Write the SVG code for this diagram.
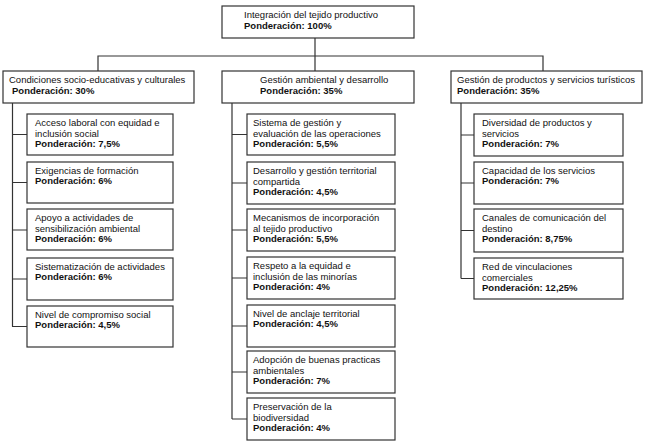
<svg xmlns="http://www.w3.org/2000/svg" width="650" height="446" viewBox="0 0 650 446">
<style>
rect.b{fill:#fff;stroke:#333;stroke-width:1.2}
text{font-family:"Liberation Sans",Arial,sans-serif;font-size:9.5px;fill:#111}
.p{font-weight:bold}
#connectors path{fill:none;stroke:#333;stroke-width:1.2}
</style>
<rect width="650" height="446" fill="#fff"/>
<g id="connectors">
<path d="M315 38V71M98 71V56H543V71"/>
<path d="M12.5 103V326.5M12 134.5H27M12 182.5H27M12 230H27M12 279H27M12 326.5H27"/>
<path d="M232 103V419M232 134.5H247M232 183H247M232 230H247M232 278H247M232 326H247M232 372H247M232 419H247"/>
<path d="M461 103V278.5M461 135H474M461 183H474M461 230.5H474M461 278.5H474"/>
</g>
<g id="n0"><rect class="b" x="222" y="6" width="192" height="32"/><text x="244" y="17.5">Integración del tejido productivo</text><text class="p" x="244" y="28.5">Ponderación: 100%</text></g>
<g id="n1"><rect class="b" x="3" y="71" width="191" height="32"/><text x="9" y="83">Condiciones socio-educativas y culturales</text><text class="p" x="12" y="94">Ponderación: 30%</text></g>
<g id="n2"><rect class="b" x="222" y="71" width="192" height="32"/><text x="260" y="83">Gestión ambiental y desarrollo</text><text class="p" x="260" y="94">Ponderación: 35%</text></g>
<g id="n3"><rect class="b" x="451" y="71" width="191" height="32"/><text x="457" y="83">Gestión de productos y servicios turísticos</text><text class="p" x="457" y="94">Ponderación: 35%</text></g>

<g id="n1a"><rect class="b" x="27" y="114" width="146" height="41"/><text x="35" y="126">Acceso laboral con equidad e</text><text x="35" y="136.5">inclusión social</text><text class="p" x="35" y="147">Ponderación: 7,5%</text></g>
<g id="n1b"><rect class="b" x="27" y="162" width="146" height="41"/><text x="35" y="173.5">Exigencias de formación</text><text class="p" x="35" y="184">Ponderación: 6%</text></g>
<g id="n1c"><rect class="b" x="27" y="209" width="146" height="41"/><text x="35" y="221">Apoyo a actividades de</text><text x="35" y="231.5">sensibilización ambiental</text><text class="p" x="35" y="242">Ponderación: 6%</text></g>
<g id="n1d"><rect class="b" x="27" y="258" width="146" height="42"/><text x="35" y="269.5">Sistematización de actividades</text><text class="p" x="35" y="280">Ponderación: 6%</text></g>
<g id="n1e"><rect class="b" x="27" y="306" width="146" height="41"/><text x="35" y="317.5">Nivel de compromiso social</text><text class="p" x="35" y="328">Ponderación: 4,5%</text></g>

<g id="n2a"><rect class="b" x="247" y="114" width="148" height="41"/><text x="253" y="126">Sistema de gestión y</text><text x="253" y="136.5">evaluación de las operaciones</text><text class="p" x="253" y="147">Ponderación: 5,5%</text></g>
<g id="n2b"><rect class="b" x="247" y="162" width="148" height="42"/><text x="253" y="174">Desarrollo y gestión territorial</text><text x="253" y="184.5">compartida</text><text class="p" x="253" y="195">Ponderación: 4,5%</text></g>
<g id="n2c"><rect class="b" x="247" y="209" width="148" height="42"/><text x="253" y="221">Mecanismos de incorporación</text><text x="253" y="231.5">al tejido productivo</text><text class="p" x="253" y="242">Ponderación: 5,5%</text></g>
<g id="n2d"><rect class="b" x="247" y="257" width="148" height="42"/><text x="253" y="269">Respeto a la equidad e</text><text x="253" y="279.5">inclusión de las minorías</text><text class="p" x="253" y="290">Ponderación: 4%</text></g>
<g id="n2e"><rect class="b" x="247" y="305" width="148" height="42"/><text x="253" y="316.5">Nivel de anclaje territorial</text><text class="p" x="253" y="327">Ponderación: 4,5%</text></g>
<g id="n2f"><rect class="b" x="247" y="351" width="148" height="42"/><text x="253" y="363">Adopción de buenas practicas</text><text x="253" y="373.5">ambientales</text><text class="p" x="253" y="384">Ponderación: 7%</text></g>
<g id="n2g"><rect class="b" x="247" y="398" width="148" height="42"/><text x="253" y="410">Preservación de la</text><text x="253" y="420.5">biodiversidad</text><text class="p" x="253" y="431">Ponderación: 4%</text></g>

<g id="n3a"><rect class="b" x="474" y="114" width="149" height="42"/><text x="482" y="126">Diversidad de productos y</text><text x="482" y="136.5">servicios</text><text class="p" x="482" y="147">Ponderación: 7%</text></g>
<g id="n3b"><rect class="b" x="474" y="162" width="149" height="42"/><text x="482" y="173.5">Capacidad de los servicios</text><text class="p" x="482" y="184">Ponderación: 7%</text></g>
<g id="n3c"><rect class="b" x="474" y="209" width="149" height="43"/><text x="482" y="221">Canales de comunicación del</text><text x="482" y="231.5">destino</text><text class="p" x="482" y="242">Ponderación: 8,75%</text></g>
<g id="n3d"><rect class="b" x="474" y="258" width="149" height="41"/><text x="482" y="270">Red de vinculaciones</text><text x="482" y="280.5">comerciales</text><text class="p" x="482" y="291">Ponderación: 12,25%</text></g>
</svg>
